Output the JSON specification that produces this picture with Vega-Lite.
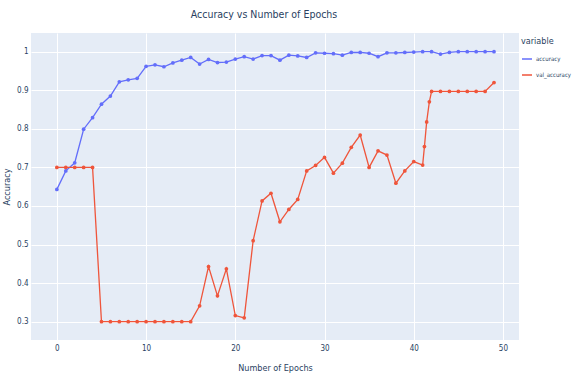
{
  "$schema": "https://vega.github.io/schema/vega-lite/v6.json",
  "autosize": {"type": "none"},
  "width": 488,
  "height": 307,
  "padding": {"left": 31, "top": 33, "right": 58, "bottom": 34},
  "background": "white",
  "title": {
    "text": "Accuracy vs Number of Epochs",
    "font": "'DejaVu Sans Condensed', 'Liberation Sans Narrow', Roboto, sans-serif",
    "fontSize": 10.5,
    "fontWeight": "normal",
    "color": "#2a3f5f",
    "anchor": "middle",
    "dx": -11,
    "offset": 13
  },
  "config": {
    "view": {"fill": "#E5ECF6", "stroke": null},
    "axis": {
      "labelFont": "'DejaVu Sans Condensed', 'Liberation Sans Narrow', Roboto, sans-serif",
      "titleFont": "'DejaVu Sans Condensed', 'Liberation Sans Narrow', Roboto, sans-serif",
      "labelColor": "#2a3f5f",
      "titleColor": "#2a3f5f",
      "labelFontSize": 8,
      "titleFontSize": 9,
      "titleFontWeight": "normal",
      "gridColor": "white",
      "gridWidth": 1,
      "domain": false,
      "ticks": false
    },
    "legend": {
      "labelFont": "'DejaVu Sans Condensed', 'Liberation Sans Narrow', Roboto, sans-serif",
      "titleFont": "'DejaVu Sans Condensed', 'Liberation Sans Narrow', Roboto, sans-serif",
      "labelColor": "#2a3f5f",
      "titleColor": "#2a3f5f"
    }
  },
  "data": {
    "values": [
      {"epoch": 0, "variable": "accuracy", "value": 0.643},
      {"epoch": 1, "variable": "accuracy", "value": 0.691},
      {"epoch": 2, "variable": "accuracy", "value": 0.712},
      {"epoch": 3, "variable": "accuracy", "value": 0.799},
      {"epoch": 4, "variable": "accuracy", "value": 0.829},
      {"epoch": 5, "variable": "accuracy", "value": 0.864},
      {"epoch": 6, "variable": "accuracy", "value": 0.885},
      {"epoch": 7, "variable": "accuracy", "value": 0.922},
      {"epoch": 8, "variable": "accuracy", "value": 0.927},
      {"epoch": 9, "variable": "accuracy", "value": 0.931},
      {"epoch": 10, "variable": "accuracy", "value": 0.962},
      {"epoch": 11, "variable": "accuracy", "value": 0.966},
      {"epoch": 12, "variable": "accuracy", "value": 0.961},
      {"epoch": 13, "variable": "accuracy", "value": 0.971},
      {"epoch": 14, "variable": "accuracy", "value": 0.978},
      {"epoch": 15, "variable": "accuracy", "value": 0.985},
      {"epoch": 16, "variable": "accuracy", "value": 0.968},
      {"epoch": 17, "variable": "accuracy", "value": 0.98},
      {"epoch": 18, "variable": "accuracy", "value": 0.972},
      {"epoch": 19, "variable": "accuracy", "value": 0.973},
      {"epoch": 20, "variable": "accuracy", "value": 0.981},
      {"epoch": 21, "variable": "accuracy", "value": 0.987},
      {"epoch": 22, "variable": "accuracy", "value": 0.981},
      {"epoch": 23, "variable": "accuracy", "value": 0.99},
      {"epoch": 24, "variable": "accuracy", "value": 0.99},
      {"epoch": 25, "variable": "accuracy", "value": 0.978},
      {"epoch": 26, "variable": "accuracy", "value": 0.991},
      {"epoch": 27, "variable": "accuracy", "value": 0.989},
      {"epoch": 28, "variable": "accuracy", "value": 0.985},
      {"epoch": 29, "variable": "accuracy", "value": 0.997},
      {"epoch": 30, "variable": "accuracy", "value": 0.996},
      {"epoch": 31, "variable": "accuracy", "value": 0.995},
      {"epoch": 32, "variable": "accuracy", "value": 0.991},
      {"epoch": 33, "variable": "accuracy", "value": 0.998},
      {"epoch": 34, "variable": "accuracy", "value": 0.998},
      {"epoch": 35, "variable": "accuracy", "value": 0.996},
      {"epoch": 36, "variable": "accuracy", "value": 0.987},
      {"epoch": 37, "variable": "accuracy", "value": 0.997},
      {"epoch": 38, "variable": "accuracy", "value": 0.997},
      {"epoch": 39, "variable": "accuracy", "value": 0.998},
      {"epoch": 40, "variable": "accuracy", "value": 0.999},
      {"epoch": 41, "variable": "accuracy", "value": 1.0},
      {"epoch": 42, "variable": "accuracy", "value": 1.0},
      {"epoch": 43, "variable": "accuracy", "value": 0.994},
      {"epoch": 44, "variable": "accuracy", "value": 0.998},
      {"epoch": 45, "variable": "accuracy", "value": 1.0},
      {"epoch": 46, "variable": "accuracy", "value": 1.0},
      {"epoch": 47, "variable": "accuracy", "value": 1.0},
      {"epoch": 48, "variable": "accuracy", "value": 1.0},
      {"epoch": 49, "variable": "accuracy", "value": 1.0},
      {"epoch": 0, "variable": "val_accuracy", "value": 0.7},
      {"epoch": 1, "variable": "val_accuracy", "value": 0.7},
      {"epoch": 2, "variable": "val_accuracy", "value": 0.7},
      {"epoch": 3, "variable": "val_accuracy", "value": 0.7},
      {"epoch": 4, "variable": "val_accuracy", "value": 0.7},
      {"epoch": 5, "variable": "val_accuracy", "value": 0.3},
      {"epoch": 6, "variable": "val_accuracy", "value": 0.3},
      {"epoch": 7, "variable": "val_accuracy", "value": 0.3},
      {"epoch": 8, "variable": "val_accuracy", "value": 0.3},
      {"epoch": 9, "variable": "val_accuracy", "value": 0.3},
      {"epoch": 10, "variable": "val_accuracy", "value": 0.3},
      {"epoch": 11, "variable": "val_accuracy", "value": 0.3},
      {"epoch": 12, "variable": "val_accuracy", "value": 0.3},
      {"epoch": 13, "variable": "val_accuracy", "value": 0.3},
      {"epoch": 14, "variable": "val_accuracy", "value": 0.3},
      {"epoch": 15, "variable": "val_accuracy", "value": 0.3},
      {"epoch": 16, "variable": "val_accuracy", "value": 0.341},
      {"epoch": 17, "variable": "val_accuracy", "value": 0.443},
      {"epoch": 18, "variable": "val_accuracy", "value": 0.367},
      {"epoch": 19, "variable": "val_accuracy", "value": 0.437},
      {"epoch": 20, "variable": "val_accuracy", "value": 0.316},
      {"epoch": 21, "variable": "val_accuracy", "value": 0.31},
      {"epoch": 22, "variable": "val_accuracy", "value": 0.51},
      {"epoch": 23, "variable": "val_accuracy", "value": 0.613},
      {"epoch": 24, "variable": "val_accuracy", "value": 0.633},
      {"epoch": 25, "variable": "val_accuracy", "value": 0.559},
      {"epoch": 26, "variable": "val_accuracy", "value": 0.591},
      {"epoch": 27, "variable": "val_accuracy", "value": 0.617},
      {"epoch": 28, "variable": "val_accuracy", "value": 0.691},
      {"epoch": 29, "variable": "val_accuracy", "value": 0.705},
      {"epoch": 30, "variable": "val_accuracy", "value": 0.726},
      {"epoch": 31, "variable": "val_accuracy", "value": 0.685},
      {"epoch": 32, "variable": "val_accuracy", "value": 0.711},
      {"epoch": 33, "variable": "val_accuracy", "value": 0.752},
      {"epoch": 34, "variable": "val_accuracy", "value": 0.784},
      {"epoch": 35, "variable": "val_accuracy", "value": 0.7},
      {"epoch": 36, "variable": "val_accuracy", "value": 0.743},
      {"epoch": 37, "variable": "val_accuracy", "value": 0.732},
      {"epoch": 38, "variable": "val_accuracy", "value": 0.659},
      {"epoch": 39, "variable": "val_accuracy", "value": 0.691},
      {"epoch": 40, "variable": "val_accuracy", "value": 0.715},
      {"epoch": 41, "variable": "val_accuracy", "value": 0.706},
      {"epoch": 41.2, "variable": "val_accuracy", "value": 0.754},
      {"epoch": 41.45, "variable": "val_accuracy", "value": 0.818},
      {"epoch": 41.75, "variable": "val_accuracy", "value": 0.87},
      {"epoch": 42, "variable": "val_accuracy", "value": 0.897},
      {"epoch": 43, "variable": "val_accuracy", "value": 0.897},
      {"epoch": 44, "variable": "val_accuracy", "value": 0.897},
      {"epoch": 45, "variable": "val_accuracy", "value": 0.897},
      {"epoch": 46, "variable": "val_accuracy", "value": 0.897},
      {"epoch": 47, "variable": "val_accuracy", "value": 0.897},
      {"epoch": 48, "variable": "val_accuracy", "value": 0.897},
      {"epoch": 49, "variable": "val_accuracy", "value": 0.92}
    ]
  },
  "mark": {"type": "line", "point": {"size": 14, "filled": true}, "strokeWidth": 1.3, "clip": true},
  "encoding": {
    "x": {
      "field": "epoch",
      "type": "quantitative",
      "title": "Number of Epochs",
      "scale": {"domain": [-2.9, 51.8], "nice": false, "zero": false},
      "axis": {"values": [0, 10, 20, 30, 40, 50], "labelPadding": 4, "titlePadding": 11}
    },
    "y": {
      "field": "value",
      "type": "quantitative",
      "title": "Accuracy",
      "scale": {"domain": [0.2525, 1.0485], "nice": false, "zero": false},
      "axis": {"values": [0.3, 0.4, 0.5, 0.6, 0.7, 0.8, 0.9, 1], "format": ".1~f", "labelPadding": 3, "titlePadding": 5}
    },
    "color": {
      "field": "variable",
      "type": "nominal",
      "scale": {"domain": ["accuracy", "val_accuracy"], "range": ["#636EFA", "#EF553B"]},
      "legend": {
        "orient": "none",
        "legendX": 490,
        "legendY": 4,
        "title": "variable",
        "titleFontSize": 9,
        "titleFontWeight": "normal",
        "titlePadding": 7,
        "labelFontSize": 6,
        "symbolType": "stroke",
        "symbolSize": 100,
        "symbolStrokeWidth": 1.5,
        "rowPadding": 7,
        "labelOffset": 3
      }
    }
  }
}
